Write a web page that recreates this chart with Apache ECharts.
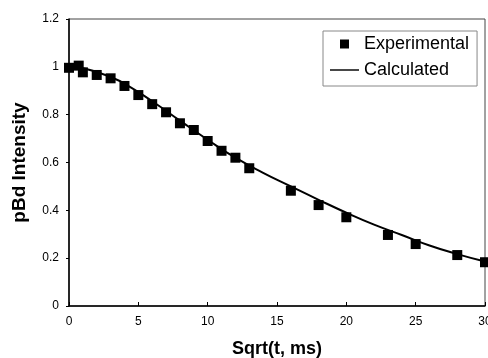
<!DOCTYPE html>
<html>
<head>
<meta charset="utf-8">
<script src="https://cdn.jsdelivr.net/npm/echarts@6/dist/echarts.min.js"></script>
<style>
  html, body {margin: 0; padding: 0; background: #fff;}
  #chart {width: 488px; height: 358px;}
</style>
</head>
<body>
<div id="chart"></div>
<script>
  // measured points (sqrt(t) vs intensity)
  const expX = [0, 0.7, 1, 2, 3, 4, 5, 6, 7, 8, 9, 10, 11, 12, 13, 16, 18, 20, 23, 25, 28, 30]
  const expY = [0.996, 1.005, 0.977, 0.966, 0.952, 0.92, 0.882, 0.844, 0.81, 0.764, 0.736, 0.69, 0.649, 0.62, 0.576, 0.482, 0.422, 0.371, 0.297, 0.259, 0.213, 0.183]

  // fitted curve
  const calcX = [0, 1, 2, 3, 4, 6, 8, 10, 12, 14, 16, 18, 20, 22, 24, 26, 28, 30]
  const calcY = [1.0, 0.994, 0.978, 0.957, 0.93, 0.856, 0.775, 0.695, 0.62, 0.557, 0.5, 0.444, 0.39, 0.34, 0.297, 0.253, 0.217, 0.186]

  const font = 'Liberation Sans, Arial, sans-serif'

  let chart = echarts.init(document.getElementById('chart'))
  chart.setOption({
    animation: false,
    grid: {
      left: 69, right: 3, top: 19, bottom: 52,
      outerBoundsMode: 'none',
      containLabel: false,
      show: true, borderColor: '#444', borderWidth: 1
    },
    legend: {
      orient: 'vertical',
      left: 323, top: 31,
      padding: [2, 8, 5, 7],
      itemGap: 4,
      itemWidth: 29, itemHeight: 9,
      borderColor: '#888', borderWidth: 1,
      textStyle: {fontFamily: font, fontSize: 18, color: '#000', lineHeight: 22},
      data: [
        {name: 'Experimental', icon: 'path://M0,0h1v1h-1z'},
        {name: 'Calculated', icon: 'path://M0,0h20v1h-20z'}
      ]
    },
    xAxis: {
      type: 'value',
      min: 0, max: 30, interval: 5,
      name: 'Sqrt(t, ms)',
      nameLocation: 'middle',
      nameGap: 34,
      nameTextStyle: {fontFamily: font, fontSize: 18, fontWeight: 'bold', color: '#000'},
      axisLine: {lineStyle: {color: '#000', width: 1.5}},
      axisTick: {inside: true, length: 4, lineStyle: {color: '#000'}},
      axisLabel: {fontFamily: font, fontSize: 12, color: '#000', margin: 10},
      splitLine: {show: false}
    },
    yAxis: {
      type: 'value',
      min: 0, max: 1.2, interval: 0.2,
      name: 'pBd Intensity',
      nameLocation: 'middle',
      nameGap: 40,
      nameTextStyle: {fontFamily: font, fontSize: 19, fontWeight: 'bold', color: '#000'},
      axisLine: {show: true, lineStyle: {color: '#000', width: 1.5}},
      axisTick: {show: true, length: 3, lineStyle: {color: '#000'}},
      axisLabel: {fontFamily: font, fontSize: 12, color: '#000', margin: 10},
      splitLine: {show: false}
    },
    series: [
      {
        type: 'line',
        name: 'Calculated',
        smooth: true,
        symbol: 'none',
        itemStyle: {color: '#000'},
        lineStyle: {color: '#000', width: 2},
        data: calcX.map((x, i) => [x, calcY[i]]),
        z: 2
      },
      {
        type: 'scatter',
        name: 'Experimental',
        symbol: 'rect',
        symbolSize: 10,
        itemStyle: {color: '#000', opacity: 1},
        data: expX.map((x, i) => [x, expY[i]]),
        z: 3
      }
    ]
  })
</script>
</body>
</html>
